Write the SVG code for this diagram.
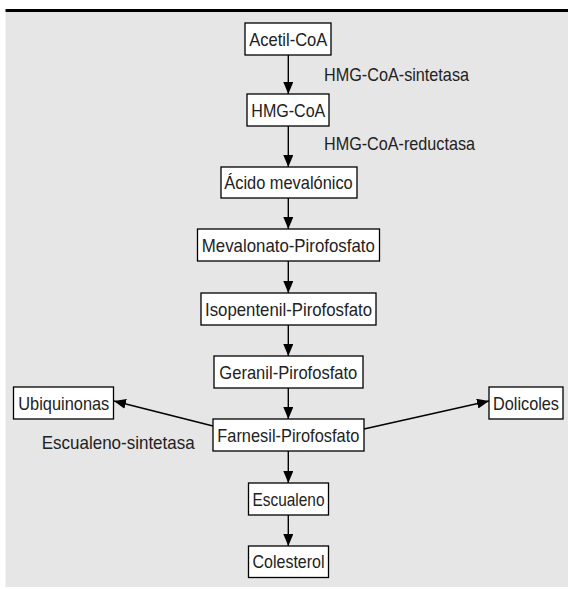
<svg xmlns="http://www.w3.org/2000/svg" width="568" height="589" viewBox="0 0 568 589">
<defs>
<marker id="ah" markerUnits="userSpaceOnUse" markerWidth="12" markerHeight="10" viewBox="0 0 12 10" refX="12" refY="5" orient="auto">
<path d="M0,0 L12,5 L0,10 z" fill="#000"/>
</marker>
<style>
.box{fill:#fff;stroke:#000;stroke-width:1.3}
.t{font-family:"Liberation Sans Narrow","Liberation Sans",Arial,sans-serif;font-size:18.5px;fill:#222;text-anchor:middle}
.l{font-family:"Liberation Sans Narrow","Liberation Sans",Arial,sans-serif;font-size:18.5px;fill:#222}
.c{stroke:#000;stroke-width:1.4;fill:none;marker-end:url(#ah)}
</style>
</defs>
<rect x="5.5" y="12" width="562.5" height="575" fill="#e6e6e6"/>
<rect x="5.5" y="9" width="562.5" height="3" fill="#000"/>
<g id="connectors">
<line class="c" x1="288.3" y1="55" x2="288.3" y2="94"/>
<line class="c" x1="288.3" y1="126" x2="288.3" y2="167"/>
<line class="c" x1="288.3" y1="198" x2="288.3" y2="229"/>
<line class="c" x1="288.3" y1="261" x2="288.3" y2="293"/>
<line class="c" x1="288.3" y1="325" x2="288.3" y2="356"/>
<line class="c" x1="288.3" y1="388" x2="288.3" y2="419"/>
<line class="c" x1="288.3" y1="451" x2="288.3" y2="483"/>
<line class="c" x1="288.3" y1="515" x2="288.3" y2="546"/>
<line class="c" x1="213" y1="426" x2="114" y2="401"/>
<line class="c" x1="364" y1="429" x2="489" y2="401"/>
</g>
<g id="label-sintetasa"><text class="l" x="324" y="81" textLength="145" lengthAdjust="spacingAndGlyphs">HMG-CoA-sintetasa</text></g>
<g id="label-reductasa"><text class="l" x="324" y="149.5" textLength="151" lengthAdjust="spacingAndGlyphs">HMG-CoA-reductasa</text></g>
<g id="label-escualeno-sintetasa"><text class="l" x="41.7" y="449" textLength="153" lengthAdjust="spacingAndGlyphs">Escualeno-sintetasa</text></g>
<g id="acetil-coa"><rect class="box" x="245" y="23" width="86" height="32"/><text class="t" x="288.3" y="45.5" textLength="78" lengthAdjust="spacingAndGlyphs">Acetil-CoA</text></g>
<g id="hmg-coa"><rect class="box" x="247" y="94" width="82" height="32"/><text class="t" x="288.3" y="116.5" textLength="74" lengthAdjust="spacingAndGlyphs">HMG-CoA</text></g>
<g id="acido-mevalonico"><rect class="box" x="221" y="167" width="136" height="31"/><text class="t" x="288.5" y="189" textLength="128.5" lengthAdjust="spacingAndGlyphs">Ácido mevalónico</text></g>
<g id="mevalonato-pirofosfato"><rect class="box" x="197.5" y="229" width="182" height="32"/><text class="t" x="288.3" y="251.5" textLength="173" lengthAdjust="spacingAndGlyphs">Mevalonato-Pirofosfato</text></g>
<g id="isopentenil-pirofosfato"><rect class="box" x="201" y="293" width="175" height="32"/><text class="t" x="288.5" y="315.5" textLength="167" lengthAdjust="spacingAndGlyphs">Isopentenil-Pirofosfato</text></g>
<g id="geranil-pirofosfato"><rect class="box" x="214" y="356" width="149" height="32"/><text class="t" x="288.3" y="378.5" textLength="138" lengthAdjust="spacingAndGlyphs">Geranil-Pirofosfato</text></g>
<g id="farnesil-pirofosfato"><rect class="box" x="213" y="419" width="151" height="32"/><text class="t" x="288.3" y="441.5" textLength="142" lengthAdjust="spacingAndGlyphs">Farnesil-Pirofosfato</text></g>
<g id="ubiquinonas"><rect class="box" x="13.5" y="387" width="100" height="32"/><text class="t" x="63.8" y="409.5" textLength="91" lengthAdjust="spacingAndGlyphs">Ubiquinonas</text></g>
<g id="dolicoles"><rect class="box" x="489" y="387" width="74" height="32"/><text class="t" x="526" y="409.5" textLength="66" lengthAdjust="spacingAndGlyphs">Dolicoles</text></g>
<g id="escualeno"><rect class="box" x="248.5" y="483" width="80" height="32"/><text class="t" x="288.5" y="505.5" textLength="72" lengthAdjust="spacingAndGlyphs">Escualeno</text></g>
<g id="colesterol"><rect class="box" x="248.5" y="546" width="80" height="31.5"/><text class="t" x="288.5" y="568" textLength="72" lengthAdjust="spacingAndGlyphs">Colesterol</text></g>
</svg>
